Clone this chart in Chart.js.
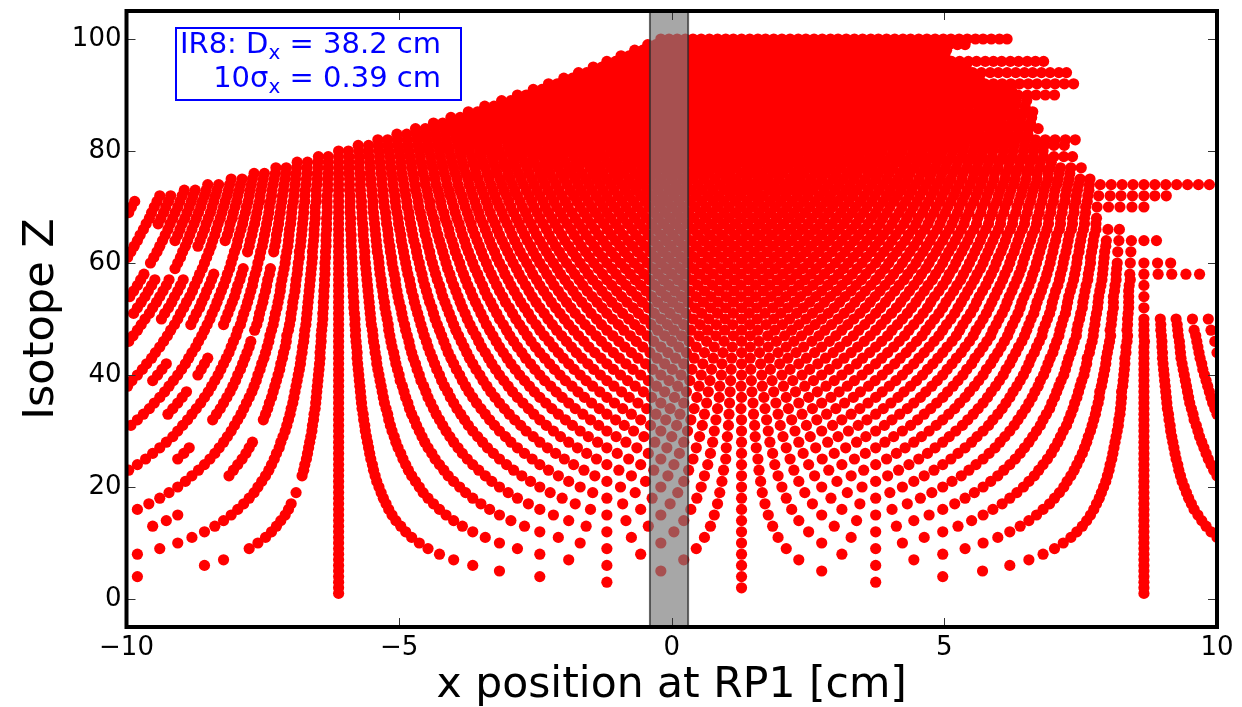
<!DOCTYPE html>
<html><head><meta charset="utf-8">
<script src="https://cdn.jsdelivr.net/npm/chart.js@4"></script>
<style>
html,body{margin:0;padding:0;background:#fff}
#wrap{position:relative;width:1242px;height:707px;overflow:hidden}
#note{position:absolute;left:175px;top:27px;width:283px;height:70px;border:2px solid #00f;background:#fff;color:#00f;font:29px "DejaVu Sans";line-height:34px;text-align:right;white-space:nowrap}
#note div{position:relative;right:19px;top:-3px}
#note sub{font-size:20px;line-height:0;vertical-align:-6px}
</style></head><body>
<div id="wrap"><canvas id="c" width="1242" height="707"></canvas>
<div id="note"><div>IR8: D<sub>x</sub> = 38.2 cm</div><div>10σ<sub>x</sub> = 0.39 cm</div></div></div>
<script>
const rowZ=[1,2,3,4,5,6,7,8,9,10,11,12,13,14,15,16,17,18,19,20,21,22,23,24,25,26,27,28,29,30,31,32,33,34,35,36,37,38,39,40,41,42,43,44,45,46,47,48,49,50,51,52,53,54,55,56,57,58,59,60,61,62,63,64,65,66,67,68,69,70,71,72,73,74,75,76,77,78,79,80,81,82,83,84,85,86,87,88,89,90,91,92,93,94,95,96,97,98,99,100];
const rowX100=[
[-611,866],
[-611,128,866],
[-611,-119,374,866],
[-980,-611,-242,128,497,866],
[-611,-316,-20,275,570,866],
[-857,-611,-365,-119,128,374,620,866],
[-822,-611,-400,-189,22,233,444,655,866],
[-980,-611,-426,-242,-57,128,312,497,681,866],
[-939,-775,-611,-447,-283,-119,45,210,374,538,702,866],
[-906,-759,-611,-463,-316,-168,-20,128,275,423,571,718,866],
[-880,-745,-611,-477,-342,-208,-74,60,195,329,463,598,732,866,1000],
[-857,-734,-611,-488,-365,-242,-119,4,128,251,374,497,620,743,866,989],
[-952,-838,-725,-611,-497,-384,-270,-157,-43,71,185,298,412,525,639,753,866,980],
[-927,-822,-717,-611,-506,-400,-295,-189,-84,22,128,233,339,444,550,655,761,866,972],
[-906,-808,-709,-611,-513,-414,-316,-217,-119,-20,78,177,275,374,472,571,669,768,866,965],
[-980,-796,-703,-611,-519,-426,-334,-242,-149,-57,35,128,220,312,404,497,589,681,774,866,958],
[-959,-785,-698,-611,-524,-437,-350,-263,-177,-90,-3,84,171,258,345,432,519,606,693,779,866,953],
[-939,-775,-611,-529,-447,-365,-283,-201,-119,-36,46,128,210,292,374,456,538,620,702,784,866,948],
[-922,-766,-689,-611,-533,-456,-378,-300,-223,-145,-67,11,88,166,244,322,400,477,555,633,711,788,866,944],
[-906,-759,-611,-537,-463,-389,-316,-242,-168,-94,-20,54,128,202,275,349,423,497,571,645,719,792,866,940],
[-892,-752,-611,-541,-470,-400,-330,-259,-189,-119,-48,22,92,163,233,303,374,444,514,585,655,725,796,866,936],
[-880,-812,-745,-678,-611,-544,-477,-410,-342,-275,-208,-141,-74,-7,60,128,195,262,329,396,463,531,598,665,732,799,866,933,1000],
[-996,-868,-804,-739,-675,-611,-547,-483,-418,-354,-290,-226,-161,-97,-33,31,95,160,224,288,352,416,481,545,609,673,738,802,866,930,994],
[-980,-857,-796,-734,-673,-611,-549,-488,-426,-365,-303,-242,-180,-119,-57,4,66,128,189,251,312,374,435,497,558,620,681,743,804,866,928,989],
[-965,-906,-847,-788,-729,-670,-611,-552,-493,-434,-375,-316,-256,-197,-138,-79,-20,39,99,158,217,276,335,394,453,512,571,630,689,748,807,866,925,984],
[-952,-895,-838,-781,-725,-668,-611,-554,-497,-440,-384,-327,-270,-213,-156,-100,-43,14,71,128,185,241,298,355,412,469,525,582,639,696,753,809,866,923,980],
[-939,-885,-830,-775,-720,-666,-611,-556,-502,-447,-392,-338,-283,-228,-173,-119,-64,-9,45,100,155,210,264,319,374,428,483,538,593,647,702,757,811,866,921,976],
[-927,-822,-769,-717,-664,-611,-558,-506,-453,-400,-347,-295,-242,-189,-136,-84,-31,22,75,128,180,233,286,339,391,444,497,550,602,655,708,761,813,866,919,972],
[-915,-815,-713,-662,-611,-560,-509,-458,-407,-356,-305,-254,-204,-153,-102,-51,0,51,102,153,204,254,305,356,407,458,509,560,611,662,713,764,815,866,917,968],
[-906,-808,-709,-660,-611,-562,-513,-463,-414,-365,-316,-267,-217,-168,-119,-70,-20,29,78,128,177,226,275,324,374,423,472,521,571,620,669,718,768,817,866,915,965],
[-992,-897,-802,-706,-659,-611,-563,-516,-468,-420,-373,-325,-277,-230,-182,-134,-87,-39,9,56,104,152,199,247,295,342,390,438,485,533,581,628,676,724,771,819,866,914,962],
[-980,-888,-842,-796,-749,-703,-657,-611,-565,-519,-472,-426,-380,-334,-288,-242,-195,-149,-103,-57,-11,35,81,128,174,220,266,312,358,404,451,497,543,589,635,681,728,774,820,866,912,958],
[-969,-924,-880,-835,-790,-745,-700,-656,-611,-566,-521,-477,-432,-387,-342,-298,-253,-208,-163,-119,-74,-29,15,60,105,150,195,239,284,329,374,418,463,508,553,598,642,687,732,777,822,866,911,956,1000],
[-958,-915,-872,-828,-785,-741,-698,-654,-611,-568,-524,-481,-437,-394,-350,-307,-263,-220,-177,-133,-90,-46,-3,41,84,127,171,214,258,301,345,388,432,475,519,562,606,649,693,736,779,823,866,909,953,996],
[-949,-906,-864,-822,-780,-738,-695,-653,-611,-569,-527,-484,-442,-400,-358,-316,-273,-231,-189,-147,-105,-62,-20,22,64,106,149,191,233,275,317,360,402,444,486,528,571,613,655,697,739,782,824,866,908,950,992],
[-939,-898,-857,-816,-775,-734,-693,-652,-611,-570,-529,-488,-447,-406,-365,-324,-283,-242,-201,-160,-119,-78,-37,5,46,87,128,169,210,251,292,333,374,415,456,497,538,579,620,661,702,743,784,825,866,907,948,989],
[-930,-890,-850,-810,-770,-731,-691,-651,-611,-571,-531,-491,-451,-411,-372,-332,-292,-252,-212,-172,-132,-92,-52,-13,27,67,107,147,187,227,267,307,346,386,426,466,506,546,586,626,666,706,746,785,825,866,906,946,986],
[-998,-922,-844,-805,-766,-728,-689,-650,-611,-572,-533,-494,-455,-417,-378,-339,-300,-261,-222,-183,-145,-106,-67,-28,11,50,88,127,166,205,244,283,322,361,399,438,477,516,555,594,633,672,710,749,788,827,866,905,944,983],
[-990,-952,-914,-838,-800,-762,-725,-687,-649,-611,-573,-535,-498,-460,-422,-384,-346,-308,-270,-233,-195,-157,-119,-81,-43,-5,33,70,108,146,184,222,260,298,335,373,411,449,487,525,563,601,639,676,714,752,790,828,866,904,942,980],
[-980,-943,-906,-869,-832,-796,-759,-722,-685,-648,-611,-574,-537,-500,-463,-426,-389,-352,-316,-279,-242,-205,-168,-131,-94,-57,-20,17,54,91,128,165,202,239,275,312,349,386,423,460,497,534,571,608,645,682,719,756,792,829,866,903,940,977],
[-971,-935,-899,-863,-827,-791,-755,-719,-683,-647,-611,-575,-539,-503,-467,-431,-395,-359,-323,-287,-251,-215,-179,-143,-107,-71,-35,1,37,73,109,145,181,217,253,289,325,361,397,433,469,505,541,577,613,650,686,722,758,794,830,866,902,938,974],
[-963,-927,-892,-857,-822,-787,-752,-717,-681,-646,-611,-576,-541,-506,-470,-435,-400,-365,-330,-295,-259,-224,-189,-154,-119,-84,-48,-13,22,57,92,128,163,198,233,268,303,339,374,409,444,479,514,550,585,620,655,690,725,761,796,831,866,901,936,972],
[-954,-886,-851,-817,-783,-748,-714,-680,-645,-611,-577,-542,-508,-474,-439,-405,-371,-336,-302,-268,-233,-199,-165,-130,-96,-62,-27,7,41,76,110,144,179,213,247,282,316,350,385,419,453,488,522,556,591,625,659,694,728,762,797,831,866,900,934,969],
[-947,-880,-812,-779,-745,-712,-678,-645,-611,-577,-544,-510,-477,-443,-410,-376,-342,-309,-275,-242,-208,-175,-141,-107,-74,-40,-7,27,60,94,128,161,195,228,262,296,329,363,396,430,463,497,531,564,598,631,665,699,732,766,799,833,866,900,933,967,1000],
[-939,-873,-808,-775,-742,-709,-677,-644,-611,-578,-545,-513,-480,-447,-414,-381,-349,-316,-283,-250,-217,-184,-152,-119,-86,-53,-20,13,45,78,111,144,177,210,242,275,308,341,374,407,439,472,505,538,571,604,636,669,702,735,768,801,833,866,899,932,965],
[-996,-932,-868,-804,-772,-739,-707,-675,-643,-611,-579,-547,-515,-482,-450,-418,-386,-354,-322,-290,-258,-225,-193,-161,-129,-97,-65,-33,0,32,64,96,128,160,192,224,257,289,321,353,385,417,449,481,514,546,578,610,642,674,706,738,771,803,835,867,899,931,963,996],
[-988,-925,-862,-799,-737,-706,-674,-643,-611,-580,-548,-517,-485,-454,-422,-391,-359,-328,-297,-265,-234,-202,-171,-139,-108,-76,-45,-13,18,50,81,113,144,176,207,238,270,301,333,364,396,427,459,490,522,553,585,616,647,679,710,742,773,805,836,866,898,929,961],
[-980,-919,-857,-796,-765,-734,-703,-673,-642,-611,-580,-549,-519,-488,-457,-426,-396,-365,-334,-303,-272,-242,-211,-180,-149,-119,-88,-57,-26,4,35,66,97,128,158,189,220,251,281,312,343,374,404,435,466,497,528,558,589,620,651,681,712,743,774,804,835,866,897,928,958,989],
[-973,-912,-882,-852,-822,-791,-761,-731,-701,-671,-641,-611,-581,-551,-520,-490,-460,-430,-400,-370,-340,-309,-279,-249,-219,-189,-159,-129,-98,-68,-38,-8,22,52,82,112,143,173,203,233,263,293,323,354,384,414,444,474,504,534,565,595,625,655,685,715,745,776,806,836,866,897,927],
[-966,-936,-906,-877,-847,-818,-788,-758,-729,-699,-670,-640,-611,-581,-552,-522,-493,-463,-434,-404,-375,-345,-316,-286,-257,-227,-197,-168,-138,-109,-79,-50,-20,9,39,68,98,128,157,187,216,246,275,305,334,364,393,423,453,482,512,541,571,600,630,659,689,718,748,777,807,836,866,896,925,955,984],
[-987,-958,-930,-901,-872,-843,-814,-785,-756,-727,-698,-669,-640,-611,-582,-553,-524,-495,-466,-437,-408,-379,-350,-321,-292,-263,-234,-205,-177,-148,-119,-90,-61,-32,-3,26,55,84,113,142,171,200,229,258,287,316,345,374,403,432,461,490,519,548,577,606,635,664,693,722,750,779,808,837],
[-980,-952,-923,-895,-866,-838,-810,-781,-753,-724,-696,-668,-639,-611,-583,-554,-526,-497,-469,-440,-412,-384,-355,-327,-298,-270,-242,-213,-185,-156,-128,-100,-71,-43,-14,14,43,71,99,128,156,185,213,241,270,298,327,355,383,412,440,469,497,525,554,582,611,639,667,696,724,753,781,810,838,866],
[-973,-945,-917,-890,-862,-834,-806,-778,-750,-722,-695,-667,-639,-611,-583,-555,-527,-500,-472,-444,-416,-388,-360,-332,-305,-277,-249,-221,-193,-165,-137,-110,-82,-54,-26,2,30,58,85,113,141,169,197,225,253,280,308,336,364,392,420,448,475,503,531,559,587,615,642,670,698,726,754,782,810,838],
[-994,-966,-939,-912,-884,-857,-830,-802,-775,-748,-720,-693,-666,-638,-611,-584,-556,-529,-502,-474,-447,-420,-392,-365,-338,-310,-283,-256,-228,-201,-174,-146,-119,-92,-64,-37,-10,18,45,72,100,127,154,182,209,236,264,291,318,346,373,400,428,455,482,510,537,564,592,619,646,674,701,728,756,783,810,838,866],
[-987,-960,-933,-906,-879,-853,-826,-799,-772,-745,-718,-691,-665,-638,-611,-584,-557,-530,-504,-477,-450,-423,-396,-369,-343,-316,-289,-262,-235,-208,-181,-155,-128,-101,-74,-47,-20,6,33,60,87,114,141,168,194,221,248,275,302,329,355,382,409,436,463,490,517,543,570,597,624,651,678,704,731,758,785,812,838],
[-980,-954,-927,-901,-875,-848,-822,-796,-769,-743,-717,-690,-664,-637,-611,-585,-558,-532,-506,-479,-453,-426,-400,-374,-347,-321,-295,-268,-242,-216,-189,-163,-136,-110,-84,-57,-31,-5,22,48,75,101,127,154,180,206,233,259,286,312,338,365,391,417,444,470,497,523,549,576,602,628,655,681,708,734,760,787,813,839,866],
[-974,-948,-922,-896,-870,-844,-818,-792,-767,-741,-715,-689,-663,-637,-611,-585,-559,-533,-507,-481,-456,-430,-404,-378,-352,-326,-300,-274,-248,-222,-196,-170,-145,-119,-93,-67,-41,-15,11,37,63,89,115,141,167,193,218,244,270,296,322,348,374,400,426,452,478,504,530,555,581,607,633,659,685,711,737,763,789,815,841],
[-968,-866,-840,-815,-789,-764,-738,-713,-687,-662,-636,-611,-586,-560,-535,-509,-484,-458,-433,-407,-382,-356,-331,-306,-280,-255,-229,-204,-178,-153,-127,-102,-76,-51,-25,0,25,51,76,102,127,153,178,204,229,255,280,306,331,356,382,407,433,458,484,509,535,560,586,611,637,662,688,713,739,764,790,815,840,866,892,917,943,968],
[-911,-861,-811,-786,-761,-736,-711,-686,-661,-636,-611,-586,-561,-536,-511,-486,-461,-436,-411,-386,-361,-336,-310,-285,-260,-235,-210,-185,-160,-135,-110,-85,-60,-35,-10,15,40,65,90,115,140,165,190,215,240,265,290,315,340,365,391,416,441,466,491,516,541,566,591,616,641,666,691,716,741,766,791,816],
[-956,-906,-857,-808,-759,-709,-685,-660,-636,-611,-586,-562,-537,-513,-488,-463,-439,-414,-389,-365,-340,-316,-291,-266,-242,-217,-193,-168,-143,-119,-94,-69,-45,-20,4,29,54,78,103,128,152,177,201,226,251,275,300,324,349,374,398,423,448,472,497,521,546,571,595,620,644,669,694,718,743,768,792,817,841,866,891,915],
[-998,-950,-901,-853,-805,-756,-708,-683,-659,-635,-611,-587,-563,-538,-514,-490,-466,-442,-417,-393,-369,-345,-321,-296,-272,-248,-224,-200,-175,-151,-127,-103,-79,-54,-30,-6,18,42,67,91,115,139,163,188,212,236,260,284,309,333,357,381,405,430,454,478,502,526,551,575,599,623,647,672,696,720,744,768,793],
[-992,-944,-897,-849,-802,-778,-754,-730,-706,-683,-659,-635,-611,-587,-563,-540,-516,-492,-468,-444,-420,-397,-373,-349,-325,-301,-278,-254,-230,-206,-182,-158,-135,-111,-87,-63,-39,-16,8,32,56,80,104,127,151,175,199,223,246,270,294,318,342,366,389,413,437,461,485,508,532,556,580,604,628,651,675,699,723,747,770,794,818,842],
[-986,-939,-892,-869,-845,-798,-775,-751,-728,-704,-681,-658,-634,-611,-588,-564,-541,-517,-494,-470,-447,-423,-400,-377,-353,-330,-306,-283,-259,-236,-213,-189,-166,-142,-119,-95,-72,-49,-25,-2,22,45,69,92,115,139,162,186,209,233,256,279,303,326,350,373,397,420,444,467,490,514,537,561,584,608,631,654,678,701,725,748,772,796],
[-980,-934,-911,-888,-865,-842,-819,-796,-773,-749,-726,-703,-680,-657,-634,-611,-588,-565,-542,-519,-496,-473,-449,-426,-403,-380,-357,-334,-311,-288,-265,-242,-219,-196,-172,-149,-126,-103,-80,-57,-34,-11,12,35,58,81,104,128,151,174,197,220,243,266,289,312,335,358,381,404,428,451,474,497,520,543,566,589,612,635,658,681,704,727,750,773,797,820,843,866,889],
[-975,-929,-906,-884,-861,-838,-815,-793,-770,-747,-725,-702,-679,-656,-634,-611,-588,-566,-543,-520,-497,-475,-452,-429,-407,-384,-361,-338,-316,-293,-270,-248,-225,-202,-179,-157,-134,-111,-89,-66,-43,-20,2,25,48,70,93,116,138,161,184,207,229,252,275,297,320,343,366,388,411,434,456,479,502,525,547,570,593,615,638,661,684,706,729,752,775],
[-969,-924,-902,-880,-857,-835,-812,-790,-768,-745,-723,-701,-678,-656,-633,-611,-589,-566,-544,-521,-499,-477,-454,-432,-409,-387,-365,-342,-320,-297,-275,-253,-230,-208,-185,-163,-141,-118,-96,-73,-51,-29,-6,16,39,61,83,106,128,151,173,195,218,240,263,285,307,330,352,375,397,419,442,464,487,509,531,554,576,599,621,643,666,688,711,733,755,778,800,821],
[-964,-942,-920,-898,-876,-854,-832,-810,-787,-765,-743,-721,-699,-677,-655,-633,-611,-589,-567,-545,-523,-501,-479,-456,-434,-412,-390,-368,-346,-324,-302,-280,-258,-236,-214,-192,-170,-148,-125,-103,-81,-59,-37,-15,7,29,51,73,95,117,139,161,183,205,228,250,272,294,316,338,360,382,404,426,448,470,492,514,536,559,581,603,625,647,669,691,713,735,757,778],
[-958,-937,-915,-893,-872,-850,-828,-806,-785,-763,-741,-720,-698,-676,-654,-633,-611,-589,-568,-546,-524,-502,-481,-459,-437,-416,-394,-372,-351,-329,-307,-285,-264,-242,-220,-199,-177,-155,-133,-112,-90,-68,-47,-25,-3,18,40,62,84,105,127,149,170,192,214,235,257,279,301,322,344,366,387,409,431,452,474,496,518,539,561,583,604,626,648,670,691,713,735,757,779],
[-996,-954,-932,-911,-889,-868,-846,-825,-804,-782,-761,-739,-718,-697,-675,-654,-632,-611,-590,-568,-547,-525,-504,-482,-461,-440,-418,-397,-375,-354,-333,-311,-290,-268,-247,-226,-204,-183,-161,-140,-119,-97,-76,-54,-33,-12,10,31,53,74,96,117,138,160,181,203,224,245,267,288,310,331,352,374,395,417,438,460,481,502,524,545,567,588,609,631,652,674,695,716,738,759],
[-991,-949,-928,-906,-885,-864,-843,-822,-801,-780,-759,-738,-717,-696,-675,-654,-632,-611,-590,-569,-548,-527,-506,-485,-464,-443,-422,-400,-379,-358,-337,-316,-295,-274,-253,-232,-211,-190,-168,-147,-126,-105,-84,-63,-42,-21,0,21,42,63,84,105,127,148,169,190,211,232,253,274,295,316,337,358,379,400,422,443,464,485,506,527,548,569,590,611,633,654,675,696,717,738,759,780,801,822,844,866],
[-985,-944,-923,-902,-881,-861,-840,-819,-798,-777,-756,-736,-715,-694,-673,-652,-632,-611,-590,-569,-548,-528,-507,-486,-465,-444,-424,-403,-382,-361,-340,-320,-299,-278,-257,-236,-216,-195,-174,-153,-132,-112,-91,-70,-49,-28,-8,13,34,55,76,96,117,138,159,180,200,221,242,263,284,304,325,346,367,388,408,429,450,471,492,512,533,554,575,596,616,637,658,679,700,721,741,762],
[-939,-919,-898,-878,-857,-837,-816,-796,-775,-755,-734,-714,-693,-673,-652,-632,-611,-590,-570,-549,-529,-508,-488,-467,-447,-426,-406,-385,-365,-344,-324,-303,-283,-262,-242,-221,-201,-180,-160,-139,-119,-98,-78,-57,-37,-16,4,25,45,66,86,107,127,148,168,189,209,230,250,271,291,312,332,353,373,394,414,435,455,476,496,517,537,558,578,599,619,640,660,681,701,722,742,763,783,804,824,845,866,886,907],
[-894,-874,-854,-834,-813,-793,-773,-753,-733,-712,-692,-672,-652,-631,-611,-591,-571,-550,-530,-510,-490,-470,-449,-429,-409,-389,-368,-348,-328,-308,-288,-267,-247,-227,-207,-186,-166,-146,-126,-106,-85,-65,-45,-25,-4,16,36,56,76,97,117,137,157,178,198,218,238,258,279,299,319,339,360,380,400,420,440,461,481,501,521,542,562,582,602,622,643,663,683,703,724,744,765],
[-851,-831,-811,-791,-771,-751,-731,-711,-691,-671,-651,-631,-611,-591,-571,-551,-531,-511,-491,-471,-452,-432,-412,-392,-372,-352,-332,-312,-292,-272,-252,-232,-212,-192,-172,-152,-132,-112,-92,-72,-52,-32,-12,8,28,48,68,88,108,128,148,168,187,207,227,247,267,287,307,327,347,367,387,407,427,447,467,487,507,527,547,567,587,607,627,647,667,686,706,726,746,766,786,806,826,846,866,886,906,926,946,966,986],
[-808,-788,-769,-749,-729,-709,-690,-670,-650,-631,-611,-591,-571,-552,-532,-512,-493,-473,-453,-434,-414,-394,-374,-355,-335,-315,-296,-276,-256,-237,-217,-197,-177,-158,-138,-118,-99,-79,-59,-40,-20,0,20,39,59,79,99,118,138,158,177,197,217,236,256,276,296,315,335,355,374,394,414,433,453,473,493,512,532,552,571,591,611,630,650,670,690,709,729,749,767],
[-766,-747,-727,-708,-689,-669,-650,-630,-611,-592,-572,-553,-533,-514,-495,-475,-456,-436,-417,-397,-378,-359,-339,-320,-300,-281,-262,-242,-223,-203,-184,-165,-145,-126,-106,-87,-67,-48,-29,-9,10,30,49,68,88,107,127,146,165,185,204,224,243,263,282,301,321,340,360,379,398,418,437,457,476,495,515,534,554,573,592,612,631,651,670,690,710,730],
[-726,-707,-688,-669,-649,-630,-611,-592,-573,-553,-534,-515,-496,-477,-457,-438,-419,-400,-381,-361,-342,-323,-304,-285,-265,-246,-227,-208,-189,-170,-150,-131,-112,-93,-74,-54,-35,-16,3,22,42,61,80,99,118,138,157,176,195,214,234,253,272,291,310,330,349,368,387,406,426,445,464,483,502,522,541,560,579,598,618,637,656,675,694,713,732,751],
[-687,-668,-649,-630,-611,-592,-573,-554,-535,-516,-497,-478,-460,-441,-422,-403,-384,-365,-346,-327,-308,-289,-270,-252,-233,-214,-195,-176,-157,-138,-119,-100,-81,-62,-43,-25,-6,13,32,51,70,89,108,127,146,165,184,203,222,240,259,278,297,316,335,354,373,392,411,430,449,467,486,505,524,543,562,581,600,619,638,657,676,696],
[-648,-630,-611,-592,-573,-555,-536,-517,-498,-480,-461,-442,-424,-405,-386,-367,-349,-330,-311,-292,-274,-255,-236,-218,-199,-180,-161,-143,-124,-105,-86,-68,-49,-30,-11,7,26,45,63,82,101,120,138,157,176,195,213,232,251,269,288,307,326,344,363,382,401,419,438,457,475,494,513,532,550,569,588,607,625,644,663,682,701,719,735],
[-611,-593,-574,-556,-537,-519,-500,-482,-463,-445,-426,-408,-389,-371,-352,-334,-316,-297,-279,-260,-242,-223,-205,-186,-168,-149,-131,-112,-94,-75,-57,-39,-20,-2,17,35,54,72,91,109,128,146,165,183,202,220,239,257,275,294,312,331,349,368,386,405,423,442,460,479,497,516,534,553,571,589,608,626,645,663,681],
[-575,-556,-538,-520,-502,-484,-465,-447,-429,-411,-392,-374,-356,-338,-320,-301,-283,-265,-247,-228,-210,-192,-174,-155,-137,-119,-101,-82,-64,-46,-28,-10,9,27,45,63,82,100,118,136,154,173,191,209,227,246,264,282,300,319,337,355,373,391,410,428,446,464,483,501,519,537,556,574,592,610,628,647,665,683,701,720],
[-539,-521,-503,-485,-467,-449,-431,-413,-395,-377,-359,-341,-323,-305,-287,-269,-251,-233,-215,-197,-179,-161,-143,-125,-107,-89,-71,-53,-35,-17,1,19,37,55,73,91,109,127,145,163,181,199,217,235,253,271,289,307,325,343,361,379,397,415,433,451,469,487,505,523,541,559,577,595,613,631,649,667,685,703,722,740],
[-504,-486,-468,-451,-433,-415,-397,-380,-362,-344,-326,-308,-291,-273,-255,-237,-219,-202,-184,-166,-148,-130,-113,-95,-77,-59,-41,-24,-6,12,30,48,65,83,101,119,137,154,172,190,208,226,243,261,279,297,315,332,350,368,386,404,421,439,457,475,493,510,528,546,564,582,599,617,635,653],
[-470,-452,-435,-417,-400,-382,-365,-347,-330,-312,-294,-277,-259,-242,-224,-207,-189,-171,-154,-136,-119,-101,-84,-66,-48,-31,-13,4,22,39,57,75,92,110,127,145,162,180,198,215,233,250,268,285,303,320,338,356,373,391,408,426,443,461,479,496,514,531,549,566,584,602,619,637,654,672],
[-437,-420,-402,-385,-368,-350,-333,-315,-298,-281,-263,-246,-229,-211,-194,-177,-159,-142,-124,-107,-90,-72,-55,-38,-20,-3,15,32,49,67,84,101,119,136,154,171,188,206,223,240,258,275,292,310,327,345,362,379,397,414,431,449,466,484,501,518,536,553,570,588,605,623,640,658],
[-405,-388,-371,-354,-337,-320,-302,-285,-268,-251,-234,-217,-200,-182,-165,-148,-131,-114,-97,-80,-62,-45,-28,-11,6,23,40,58,75,92,109,126,143,160,178,195,212,229,246,263,281,298,315,332,349,366,383,401,418,435,452,469,486,503,521,538,555,572,589,606,623,641,660],
[-373,-356,-339,-322,-305,-288,-271,-254,-237,-220,-203,-186,-169,-152,-135,-118,-101,-84,-67,-50,-33,-16,1,18,35,52,69,86,103,120,137,154,171,188,205,222,239,256,273,290,307,324,341,358,375,392,409,426,443,460,477,494,511,528,545,562,579,596,613,630,647,662],
[-343,-326,-309,-292,-276,-259,-242,-225,-209,-192,-175,-158,-142,-125,-108,-91,-75,-58,-41,-24,-8,9,26,43,59,76,93,110,126,143,160,177,193,210,227,244,260,277,294,311,327,344,361,378,394,411,428,445,461,478,495,512,528,545,562,579,595,612,629,648],
[-312,-295,-279,-262,-246,-229,-213,-196,-179,-163,-146,-130,-113,-97,-80,-64,-47,-30,-14,3,19,36,52,69,85,102,119,135,152,168,185,201,218,234,251,268,284,301,317,334,350,367,384,400,417,433,450,466,483,499,516,533,549,566,582,599,615,632,651],
[-283,-267,-250,-234,-217,-201,-185,-168,-152,-135,-119,-103,-86,-70,-53,-37,-21,-4,12,29,45,61,78,94,111,127,143,160,176,193,209,225,242,258,275,291,307,324,340,357,373,389,406,422,439,455,471,488,504,521,537,553,570,586,603,619,635,652,668,685,702],
[-254,-238,-222,-206,-189,-173,-157,-141,-124,-108,-92,-76,-60,-43,-27,-11,5,22,38,54,70,87,103,119,135,151,168,184,200,216,233,249,265,281,297,314,330,346,362,379,395,411,427,444,460,476,492,508,525,541,557,573,590,606,623],
[-226,-210,-194,-178,-162,-146,-130,-114,-98,-82,-66,-50,-34,-18,-2,14,30,46,62,78,94,110,126,142,158,174,190,206,222,238,254,270,286,302,318,334,350,366,382,398,414,430,446,462,478,494,510,526,542,558,574,590,606,622,638,654,670,687,703,720,737],
[-198,-182,-166,-150,-134,-118,-103,-87,-71,-55,-39,-23,-7,9,24,40,56,72,88,104,120,136,151,167,183,199,215,231,247,263,278,294,310,326,342,358,374,390,405,421,437,453,469,485,501,517,532,548,564],
[-171,-156,-140,-124,-109,-93,-77,-61,-46,-30,-14,2,17,33,49,65,80,96,112,127,143,159,174,190,206,222,237,253,269,285,300,316,332,348,363,379,395,411,426,442,458,473,489,505,521,536,552,568,584,599,615,631,647,662,678,694,710,724],
[-144,-128,-113,-97,-82,-66,-51,-35,-19,-4,12,27,43,58,74,89,105,120,136,152,167,183,198,214,229,245,260,276,292,307,323,338,354,369,385,400,416,431,447,462,478,493,509,524,540],
[-119,-103,-88,-72,-57,-42,-26,-11,5,20,36,51,66,82,97,113,128,143,159,174,190,205,220,236,251,267,282,297,313,328,344,359,374,390,405,421,436,451,467,482,498,513,528,544,559,575,590,605,621,636,652,667,682],
[-93,-78,-63,-47,-32,-17,-2,13,29,44,59,74,89,105,120,135,150,165,181,196,211,226,241,257,272,287,302,317,333,348,363,378,393,409,424,439,455,470,485,501],
[-68,-53,-38,-23,-8,7,23,38,53,68,83,98,113,128,143,158,173,188,204,219,234,249,264,279,294,309,324,339,354,369,384,400,415,430,445,460,475,490,504],
[-44,-29,-14,1,16,31,46,61,76,91,106,120,135,150,165,180,195,210,225,240,255,270,285,300,315,330,345,359,374,389,404,419,434,449,464,479,494,509,524,538],
[-20,-5,10,25,39,54,69,84,99,113,128,143,158,172,187,202,217,232,246,261,276,291,305,320,335,350,365,379,394,409,424,438,453,468,483,498,512,527,542,557,571,586,601,615]
];
const xLimits=[-10,10], yLimits=[-5,105];
const xTicks=[-10,-5,0,5,10], yTicks=[0,20,40,60,80,100];
const bandX=[-0.40,0.30];
const points=[];
rowZ.forEach((z,i)=>rowX100[i].forEach(v=>points.push({x:v/100,y:z})));
const frame={id:'frame',afterDatasetsDraw(ch){
  const {ctx,chartArea:a,scales:{x,y}}=ch;
  ctx.save();
  const l=x.getPixelForValue(bandX[0]),r=x.getPixelForValue(bandX[1]);
  ctx.fillStyle='rgba(122,122,122,0.66)';ctx.fillRect(l,a.top,r-l,a.bottom-a.top);
  ctx.strokeStyle='rgba(40,40,40,0.7)';ctx.lineWidth=2;ctx.strokeRect(l,a.top,r-l,a.bottom-a.top);
  ctx.strokeStyle='#333';ctx.lineWidth=1;ctx.beginPath();
  x.ticks.forEach((t,i)=>{const p=Math.round(x.getPixelForTick(i))+.5;ctx.moveTo(p,a.top);ctx.lineTo(p,a.top+9);ctx.moveTo(p,a.bottom);ctx.lineTo(p,a.bottom-9);});
  y.ticks.forEach((t,i)=>{const p=Math.round(y.getPixelForTick(i))+.5;ctx.moveTo(a.left,p);ctx.lineTo(a.left+9,p);ctx.moveTo(a.right,p);ctx.lineTo(a.right-9,p);});
  ctx.stroke();
  ctx.strokeStyle='#000';ctx.lineWidth=4;ctx.strokeRect(a.left,a.top,a.right-a.left,a.bottom-a.top);
  ctx.restore();
}};
const font='"DejaVu Sans"';
new Chart(document.getElementById('c'),{type:'scatter',
 data:{datasets:[{data:points,backgroundColor:'#ff0000',borderWidth:0,pointRadius:5.6,pointHoverRadius:5.6}]},
 plugins:[frame],
 options:{responsive:false,animation:false,
  layout:{autoPadding:false,padding:{top:11,right:25,left:0,bottom:0}},
  plugins:{legend:{display:false},tooltip:{enabled:false}},
  scales:{
   x:{type:'linear',min:xLimits[0],max:xLimits[1],afterBuildTicks(s){s.ticks=xTicks.map(v=>({value:v}))},
      afterFit(s){s.height=80;s.paddingLeft=0;s.paddingRight=0},
      grid:{display:false,drawTicks:false},border:{display:false},
      ticks:{padding:6,maxRotation:0,color:'#000',font:{family:font,size:26},callback:v=>String(v).replace('-','\u2212')},
      title:{display:true,text:'x position at RP1 [cm]',color:'#000',font:{family:font,size:42.5},padding:{top:2,bottom:-4}}},
   y:{type:'linear',min:yLimits[0],max:yLimits[1],afterBuildTicks(s){s.ticks=yTicks.map(v=>({value:v}))},
      afterFit(s){s.width=126.5;s.paddingTop=0;s.paddingBottom=0},
      grid:{display:false,drawTicks:false},border:{display:false},
      ticks:{padding:5,color:'#000',font:{family:font,size:26}},
      title:{display:true,text:'Isotope Z',color:'#000',font:{family:font,size:43},padding:{top:16,bottom:0}}}
  }}});
</script></body></html>
